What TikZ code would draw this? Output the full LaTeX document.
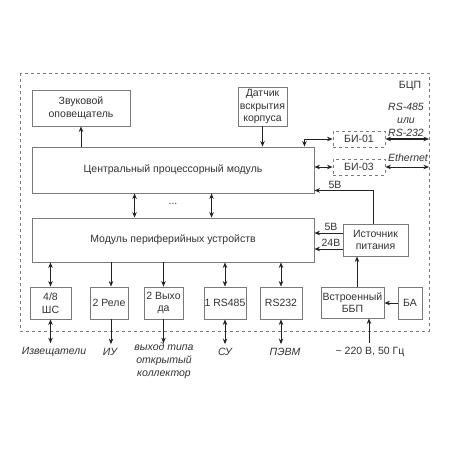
\documentclass[tikz,border=0pt]{standalone}
\usepackage{fontspec}
\setmainfont{Liberation Sans}
\usetikzlibrary{arrows.meta}
\definecolor{boxc}{HTML}{7A7A7A}
\definecolor{txt}{HTML}{333333}
\definecolor{arc}{HTML}{222222}
\begin{document}
\begin{tikzpicture}[x=1pt,y=-1pt,
  font=\fontsize{10.5}{12.5}\selectfont,
  box/.style={draw=boxc,line width=0.9pt,fill=white,text=txt,align=center,inner sep=0pt,minimum width=#1},
  dbox/.style={box=#1,dashed},
  arr/.style={draw=arc,line width=1pt,-{Stealth[length=5.5pt,width=4.5pt]}},
  darr/.style={draw=arc,line width=1pt,{Stealth[length=5.5pt,width=4.5pt]}-{Stealth[length=5.5pt,width=4.5pt]}},
  lab/.style={text=txt,inner sep=0pt,align=center},
  ilab/.style={text=txt,inner sep=0pt,align=center,font=\fontsize{10.5}{13}\selectfont\itshape}]
\useasboundingbox (0,0) rectangle (450,450);
\fill[white] (0,0) rectangle (450,450);
\draw[boxc,dashed,line width=1pt] (20,73) rectangle (429,331);
\coordinate (R) at (429,0);
% boxes
\node[box=98pt,minimum height=36pt] (zvuk) at (81,108) {Звуковой\\оповещатель};
\node[box=49pt,minimum height=39pt] (datch) at (262.5,106.5) {Датчик\\вскрытия\\корпуса};
\node[box=282pt,minimum height=46pt] (cpu) at (173,170) {Центральный процессорный модуль};
\node[box=282pt,minimum height=44pt] (per) at (173,240) {Модуль периферийных устройств};
\node[dbox=52pt,minimum height=16pt] (bi1) at (359,139) {БИ-01};
\node[dbox=52pt,minimum height=16pt] (bi3) at (359,167) {БИ-03};
\node[box=65pt,minimum height=32pt] (ist) at (375.5,240) {Источник\\питания};
\node[box=41pt,minimum height=32pt] (sh) at (50.5,303) {4/8\\ШС};
\node[box=38pt,minimum height=32pt] (rele) at (109,303) {2 Реле};
\node[box=39pt,minimum height=32pt] (vyh) at (163.5,303) {2 Выхо\\да};
\node[box=42pt,minimum height=32pt] (r485) at (225,303) {1 RS485};
\node[box=42pt,minimum height=32pt] (r232) at (281,303) {RS232};
\node[box=63pt,minimum height=31pt] (bbp) at (352.5,302.5) {Встроенный\\ББП};
\node[box=24pt,minimum height=32pt] (ba) at (410,303) {БА};
% labels
\node[lab] (bcp) at (410,86) {БЦП};
\node[ilab] (rsl) at (406,120) {RS-485\\или\\RS-232};
\node[ilab] (eth) at (408,158) {Ethernet};
\node[lab] (dots) at (173,204) {...};
\node[lab] (v5a) at (335,185) {5В};
\node[lab] (v5b) at (331,227) {5В};
\node[lab] (v24) at (331,243) {24В};
\node[ilab] (izv) at (54,352) {Извещатели};
\node[ilab] (iu) at (110,352) {ИУ};
\node[ilab,font=\fontsize{10.5}{13}\selectfont\itshape] (ok) at (164,361) {выход типа\\открытый\\коллектор};
\node[ilab] (su) at (225,352) {СУ};
\node[ilab] (pevm) at (285,352) {ПЭВМ};
\node[lab] (pw) at (370,352) {\textasciitilde{} 220 В, 50 Гц};
% connectors top
\draw[arr] (zvuk.south |- cpu.north) -- (zvuk.south);
\draw[arr] (datch.south) -- (datch.south |- cpu.north);
\draw[darr] (bi1.west) -| ([xshift=-10pt]cpu.north east);
\draw[darr,line width=1.3pt] (bi1.east) -- (bi1.east -| R);
\draw[darr] (bi3.west -| cpu.east) -- (bi3.west);
\draw[darr] (bi3.east) -- (bi3.east -| R);
\draw[arr] ([xshift=-2.5pt]ist.north) |- ([yshift=3pt]cpu.south east);
\draw[darr] ([xshift=103pt]cpu.south west) -- ([xshift=103pt]per.north west);
\draw[darr] ([xshift=180pt]cpu.south west) -- ([xshift=180pt]per.north west);
\draw[arr] ([yshift=7pt]ist.west) -- ([yshift=7pt]ist.west -| per.east);
\draw[arr] ([yshift=-9pt]ist.west) -- ([yshift=-9pt]ist.west -| per.east);
% bottom
\draw[darr] (sh.north |- per.south) -- (sh.north);
\draw[arr] ([xshift=2pt]rele.north |- per.south) -- ([xshift=2pt]rele.north);
\draw[arr] (vyh.north |- per.south) -- (vyh.north);
\draw[darr] (r485.north |- per.south) -- (r485.north);
\draw[darr] (r232.north |- per.south) -- (r232.north);
\draw[darr] (sh.south) -- ([yshift=4pt]sh.south |- izv.north);
\draw[arr] ([xshift=2pt]rele.south) -- ([xshift=2pt,yshift=4pt]rele.south |- iu.north);
\draw[arr] (vyh.south) -- ([yshift=4pt]vyh.south |- izv.north);
\draw[darr] (r485.south) -- ([yshift=4pt]r485.south |- su.north);
\draw[darr] (r232.south) -- ([yshift=4pt]r232.south |- pevm.north);
\draw[arr] ([xshift=4.5pt]bbp.north) -- ([xshift=4.5pt]bbp.north |- ist.south);
\draw[arr] (ba.west) -- (ba.west -| bbp.east);
\draw[arr] ([xshift=16.5pt,yshift=4pt]bbp.south |- pw.north) -- ([xshift=16.5pt]bbp.south);
\end{tikzpicture}
\end{document}
